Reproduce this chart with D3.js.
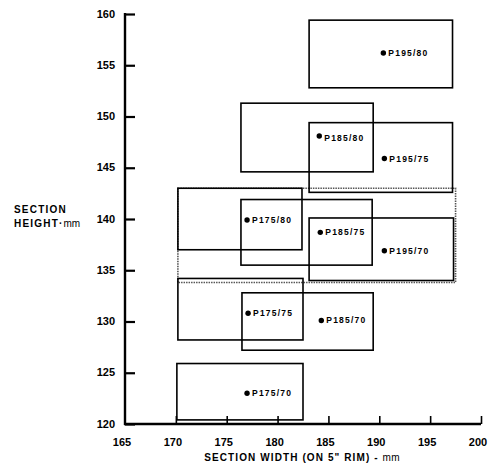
<!DOCTYPE html>
<html>
<head>
<meta charset="utf-8">
<title>Section height vs section width</title>
<script src="https://cdn.jsdelivr.net/npm/d3@7"></script>
<style>
  body { margin: 0; background: #fff; }
  text { font-family: "Liberation Sans", Arial, sans-serif; font-weight: bold; fill: #000; }
</style>
</head>
<body>
<svg width="492" height="464"></svg>
<script>
// tyre sizes, one box (width / height range) and one point each
var sizes      = ['P195/80', 'P185/80', 'P195/75', 'P175/80', 'P185/75', 'P195/70', 'P175/75', 'P185/70', 'P175/70'];
var widthMin   = [183.1, 176.4, 183.1, 170.2, 176.4, 183.1, 170.2, 176.5, 170.1];
var widthMax   = [197.2, 189.4, 197.2, 182.4, 189.3, 197.3, 182.5, 189.4, 182.5];
var heightMin  = [152.8, 144.6, 142.6, 137.0, 135.5, 134.0, 128.2, 127.2, 120.4];
var heightMax  = [159.4, 151.3, 149.4, 143.0, 141.9, 140.1, 134.2, 132.8, 125.9];
var pointWidth = [190.4, 184.1, 190.5, 177.0, 184.2, 190.5, 177.1, 184.3, 177.0];
var pointHeight= [156.2, 148.1, 145.9, 139.9, 138.7, 136.9, 130.8, 130.1, 123.0];
// dotted envelope round the middle group
var envelope = [170.2, 197.5, 133.8, 143.0];

var xTicks = [165, 170, 175, 180, 185, 190, 195, 200];
var yTicks = [120, 125, 130, 135, 140, 145, 150, 155, 160];

var svg = d3.select('svg');
var x = d3.scaleLinear().domain([165, 200]).range([125, 481]);
var y = d3.scaleLinear().domain([120, 160]).range([424, 14]);

// envelope
svg.append('rect')
  .attr('x', x(envelope[0])).attr('y', y(envelope[3]))
  .attr('width', x(envelope[1]) - x(envelope[0]))
  .attr('height', y(envelope[2]) - y(envelope[3]))
  .attr('fill', 'none').attr('stroke', '#555')
  .attr('stroke-width', 1.6).attr('stroke-dasharray', '1.5,1');

// boxes
svg.selectAll('rect.box')
  .data(sizes)
  .enter()
  .append('rect')
  .attr('class', 'box')
  .attr('x', function(d, i) { return x(widthMin[i]); })
  .attr('y', function(d, i) { return y(heightMax[i]); })
  .attr('width', function(d, i) { return x(widthMax[i]) - x(widthMin[i]); })
  .attr('height', function(d, i) { return y(heightMin[i]) - y(heightMax[i]); })
  .attr('fill', 'none')
  .attr('stroke', '#000')
  .attr('stroke-width', 1.6);

// points
svg.selectAll('circle')
  .data(sizes)
  .enter()
  .append('circle')
  .attr('cx', function(d, i) { return x(pointWidth[i]); })
  .attr('cy', function(d, i) { return y(pointHeight[i]); })
  .attr('r', 2.7)
  .attr('fill', '#000');

svg.selectAll('text.lab')
  .data(sizes)
  .enter()
  .append('text')
  .attr('class', 'lab')
  .text(function(d) { return d; })
  .attr('x', function(d, i) { return x(pointWidth[i]) + 5; })
  .attr('y', function(d, i) { return y(pointHeight[i]) + 3 + (d == 'P185/80' ? 2 : 0); })
  .attr('font-size', '8.5px')
  .attr('letter-spacing', '1.2px');

// y axis
var yAxis = svg.append('g')
  .attr('transform', 'translate(' + x(165) + ',0)')
  .call(d3.axisRight(y).tickValues(yTicks).tickSize(10).tickFormat(''));
yAxis.select('.domain').remove();
yAxis.selectAll('line').attr('stroke-width', 2.2);
svg.append('line')
  .attr('x1', x(165)).attr('x2', x(165))
  .attr('y1', y(160) - 1).attr('y2', y(120) + 1)
  .attr('stroke', '#000').attr('stroke-width', 2.4);

svg.selectAll('text.ytick')
  .data(yTicks)
  .enter()
  .append('text')
  .attr('class', 'ytick')
  .text(function(d) { return d; })
  .attr('x', 115)
  .attr('y', function(d) { return y(d) + 3.5; })
  .attr('text-anchor', 'end')
  .attr('font-size', '11px');

// x axis
var xAxis = svg.append('g')
  .attr('transform', 'translate(0,' + y(120) + ')')
  .call(d3.axisTop(x).tickValues(xTicks.slice(1)).tickSize(8).tickFormat(''));
xAxis.select('.domain').remove();
xAxis.selectAll('line').attr('stroke-width', 1.6);
svg.append('line')
  .attr('x1', x(165) - 1).attr('x2', x(200))
  .attr('y1', y(120)).attr('y2', y(120))
  .attr('stroke', '#000').attr('stroke-width', 2.4);

svg.selectAll('text.xtick')
  .data(xTicks)
  .enter()
  .append('text')
  .attr('class', 'xtick')
  .text(function(d) { return d; })
  .attr('x', function(d) { return x(d) - 3; })
  .attr('y', 446)
  .attr('text-anchor', 'middle')
  .attr('font-size', '11px');

// axis titles
var xt = svg.append('text')
  .attr('x', 302).attr('y', 461)
  .attr('text-anchor', 'middle')
  .attr('font-size', '10px')
  .attr('letter-spacing', '1.1px');
xt.append('tspan').text('SECTION WIDTH (ON 5" RIM) - ');
xt.append('tspan').style('font-weight', 'normal').attr('letter-spacing', '0.3px').text('mm');

svg.append('text')
  .attr('x', 14).attr('y', 213)
  .attr('font-size', '10px')
  .attr('letter-spacing', '1.2px')
  .text('SECTION');
var h = svg.append('text')
  .attr('x', 14).attr('y', 227)
  .attr('font-size', '10px')
  .attr('letter-spacing', '1.2px');
h.append('tspan').text('HEIGHT·');
h.append('tspan').style('font-weight', 'normal').attr('letter-spacing', '0px').text('mm');
</script>
</body>
</html>
